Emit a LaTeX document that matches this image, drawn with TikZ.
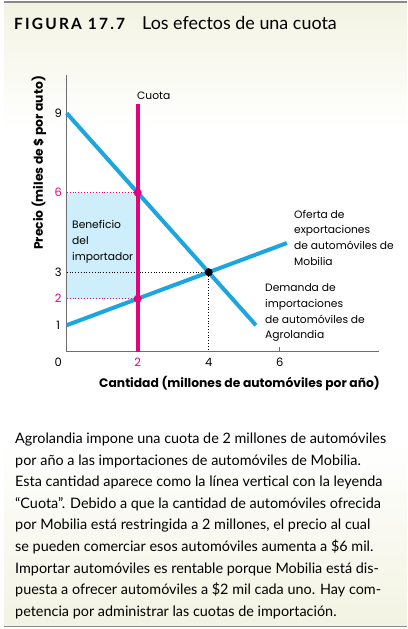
\documentclass[tikz,border=0pt]{standalone}
\usepackage{fontspec}
\setmainfont{Lato}
\newfontfamily\gfont{Poppins}
\definecolor{qblue}{HTML}{1BA6E0}
\definecolor{qpink}{HTML}{E5007D}
\definecolor{qfill}{HTML}{CDEEFA}
\definecolor{qcream}{HTML}{F3F3E3}
\definecolor{qrule}{HTML}{8A8A8A}
\definecolor{qaxis}{HTML}{6E6E6E}
\tikzset{
  qcurve/.style={qblue,line width=4pt},
  qquota/.style={qpink,line width=4pt},
  qlbl/.style={inner sep=0pt,font=\gfont\fontsize{10.7}{15.7}\selectfont,align=left,anchor=base west},
  qtick/.style={inner sep=0pt,font=\gfont\fontsize{11.5}{14}\selectfont},
  qcap/.style={inner sep=0pt,anchor=base west,font=\fontsize{14.4}{21.7}\selectfont},
  qdot/.style={circle,inner sep=0pt,minimum size=8pt},
  qaxt/.style={inner sep=0pt,font=\gfont\fontsize{12.3}{15}\selectfont\bfseries}
}
\begin{document}
\begin{tikzpicture}[x=1pt,y=-1pt]
\useasboundingbox (0,0) rectangle (407,629);
\fill[white] (0,0) rectangle (407,629);
\shade[top color=qcream,bottom color=white] (4,3) rectangle (407,130);
\shade[top color=white,bottom color=qcream] (4,440) rectangle (407,626);
\draw[qrule,line width=2pt] (4,2) -- (407,2);
\draw[qrule,line width=1.5pt] (4,626.5) -- (407,626.5);
% title
\node[inner sep=0pt,anchor=base west,font=\fontsize{15.5}{18}\selectfont\bfseries] (fig) at (14,29.3) {\addfontfeature{LetterSpace=14}FIGURA\hspace{6pt}17.7};
\node[inner sep=0pt,anchor=base west,font=\fontsize{17.9}{20}\selectfont] (ttl) at (142,29.3) {Los efectos de una cuota};
% graph
\begin{scope}[shift={(66.7,351.7)},x=35.5pt,y=26.5pt]
  \coordinate (O) at (0,0);
  \coordinate (ytop) at (0,10.44);
  \coordinate (xend) at (8.8,0);
  \coordinate (d0) at (0,9);
  \coordinate (d1) at (5.33,1);
  \coordinate (s0) at (0,1);
  \coordinate (s1) at (6.2,4.1);
  \coordinate (q0) at (2,0);
  \coordinate (q1) at (2,9.35);
  \coordinate (p6) at (0,6);
  \coordinate (p2) at (0,2);
  \coordinate (p3) at (0,3);
  \coordinate (x4) at (4,0);
  \fill[qfill] (p2) rectangle (2,6);
  \draw[qpink,dotted,line width=0.9pt] (p6) -- (2,6);
  \draw[qpink,dotted,line width=0.9pt] (p2) -- (2,2);
  \draw[black,dotted,line width=0.8pt] (p3) -- (4,3) -- (x4);
  \draw[qaxis,line width=1pt] (ytop) -- (O) -- (xend);
  \draw[qaxis,line width=0.8pt] (6,0) -- (6,0.17);
  \draw[qcurve] (d0) -- (d1);
  \draw[qcurve] (s0) -- (s1);
  \draw[qquota] (q0) -- (q1);
  \node[qdot,fill=qpink] (e6) at (2,6) {};
  \node[qdot,fill=qpink] (e2) at (2,2) {};
  \node[qdot,fill=black] (e3) at (4,3) {};
  \node[qtick] (t9) at (-0.24,9) {9};
  \node[qtick,text=qpink] (t6) at (-0.24,6) {6};
  \node[qtick] (t3) at (-0.24,3) {3};
  \node[qtick,text=qpink] (t2) at (-0.24,2) {2};
  \node[qtick] (t1) at (-0.24,1) {1};
  \node[qtick] (t0) at (-0.24,-0.41) {0};
  \node[qtick,text=qpink] (u2) at (2,-0.41) {2};
  \node[qtick] (u4) at (4,-0.41) {4};
  \node[qtick] (u6) at (6,-0.41) {6};
\end{scope}
\node[qlbl] (cuota) at (137,99) {Cuota};
\node[qlbl] (benef) at (72,260.3) {Beneficio\\del\\importador};
\node[qlbl] (oferta) at (294,265.1) {Oferta de\\exportaciones\\de automóviles de\\Mobilia};
\node[qlbl] (demanda) at (265,338.8) {Demanda de\\importaciones\\de automóviles de\\Agrolandia};
\node[qaxt,anchor=base] (xlab) at (239.5,387.3) {Cantidad (millones de automóviles por año)};
\node[qaxt,rotate=90] (ylab) at (39,163) {Precio (miles de \$ por auto)};
% caption
\node[qcap] (c1) at (15,443.3) {Agrolandia impone una cuota de 2 millones de automóviles};
\node[qcap] (c2) at (15,465.0) {por año a las importaciones de automóviles de Mobilia.};
\node[qcap] (c3) at (15,486.6) {Esta cantidad aparece como la línea vertical con la leyenda};
\node[qcap] (c4) at (15,508.3) {“Cuota”. Debido a que la cantidad de automóviles ofrecida};
\node[qcap] (c5) at (15,529.9) {por Mobilia está restringida a 2 millones, el precio al cual};
\node[qcap] (c6) at (15,551.6) {se pueden comerciar esos automóviles aumenta a \$6 mil.};
\node[qcap] (c7) at (15,573.2) {Importar automóviles es rentable porque Mobilia está dis-};
\node[qcap] (c8) at (15,594.9) {puesta a ofrecer automóviles a \$2 mil cada uno. Hay com-};
\node[qcap] (c9) at (15,616.5) {petencia por administrar las cuotas de importación.};
\end{tikzpicture}
\end{document}
